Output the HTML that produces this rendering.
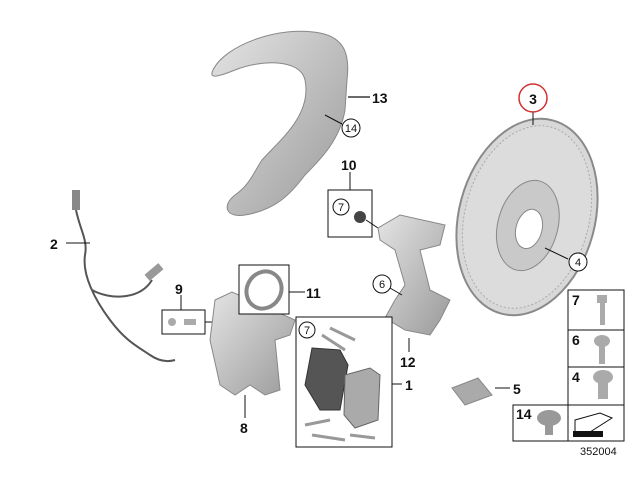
<!DOCTYPE html>
<html><head><meta charset="utf-8"><style>
html,body{margin:0;padding:0;background:#fff}
svg{display:block}
text{font-family:"Liberation Sans",sans-serif;font-weight:bold;font-size:14px;fill:#111}
.s{font-size:11px;font-weight:normal}
</style></head><body>
<svg width="640" height="480" viewBox="0 0 640 480">
<defs>
<linearGradient id="g" x1="0" y1="0" x2="1" y2="1"><stop offset="0" stop-color="#e4e4e4"/><stop offset="1" stop-color="#9a9a9a"/></linearGradient>
</defs>
<!-- shield 13 -->
<path d="M213,70 C225,45 280,25 320,33 C345,38 350,55 347,80 L345,110 C340,140 320,160 305,175 C290,195 275,210 245,215 C225,218 222,205 235,195 C250,185 255,170 262,160 C280,140 312,115 305,80 C300,58 260,60 235,70 C220,76 208,80 213,70 Z" fill="url(#g)" stroke="#888" stroke-width="1"/>
<line x1="348" y1="97" x2="370" y2="97" stroke="#111" stroke-width="1.2"/>
<text x="372" y="103">13</text>
<line x1="325" y1="115" x2="342" y2="124" stroke="#111"/>
<circle cx="351" cy="128" r="9" fill="#fff" stroke="#111"/><text x="351" y="132" class="s" text-anchor="middle">14</text>
<!-- disc 3 -->
<g transform="rotate(15 527 217)">
<ellipse cx="527" cy="217" rx="68" ry="100" fill="#d8d8d8" stroke="#8a8a8a" stroke-width="2"/>
<ellipse cx="527" cy="217" rx="62" ry="93" fill="#dcdcdc" stroke="#aaa" stroke-dasharray="2 2"/>
<ellipse cx="530" cy="225" rx="30" ry="46" fill="#c9c9c9" stroke="#888"/>
<ellipse cx="532" cy="228" rx="13" ry="20" fill="#fff" stroke="#888"/>
</g>
<line x1="533" y1="112" x2="533" y2="125" stroke="#111"/>
<circle cx="533" cy="98" r="14" fill="#fff" stroke="#d03030" stroke-width="1.5"/><text x="533" y="104" text-anchor="middle">3</text>
<line x1="545" y1="248" x2="568" y2="259" stroke="#111"/>
<circle cx="578" cy="262" r="9" fill="#fff" stroke="#111"/><text x="578" y="266" class="s" text-anchor="middle">4</text>
<!-- sensor 2 -->
<path d="M76,210 C80,230 88,240 85,255 C82,275 95,300 110,320 C125,340 135,345 150,355 C160,362 168,362 175,360 M92,290 C110,300 140,300 152,280" fill="none" stroke="#555" stroke-width="2"/>
<rect x="145" y="268" width="18" height="8" fill="#999" transform="rotate(-40 154 272)"/>
<rect x="72" y="190" width="8" height="20" fill="#888"/>
<line x1="66" y1="243" x2="90" y2="243" stroke="#111"/>
<text x="50" y="249">2</text>
<!-- box 9 -->
<line x1="181" y1="295" x2="181" y2="310" stroke="#111"/>
<text x="175" y="294">9</text>
<rect x="162" y="310" width="43" height="24" fill="#fff" stroke="#111"/>
<circle cx="172" cy="322" r="4" fill="#aaa"/><rect x="184" y="319" width="12" height="6" fill="#aaa"/>
<line x1="205" y1="322" x2="215" y2="322" stroke="#111"/>
<!-- caliper 8 -->
<path d="M215,300 L232,292 L295,320 L290,335 L275,340 L280,390 L265,395 L250,385 L235,395 L220,385 L210,340 Z" fill="url(#g)" stroke="#888"/>
<line x1="245" y1="395" x2="245" y2="418" stroke="#111"/>
<text x="240" y="433">8</text>
<!-- box 11 -->
<rect x="239" y="265" width="50" height="49" fill="#fff" stroke="#111"/>
<ellipse cx="264" cy="290" rx="17" ry="19" fill="none" stroke="#888" stroke-width="4" transform="rotate(30 264 290)"/>
<line x1="289" y1="292" x2="305" y2="292" stroke="#111"/>
<text x="306" y="298">11</text>
<!-- box 10 -->
<line x1="350" y1="172" x2="350" y2="190" stroke="#111"/>
<text x="341" y="170">10</text>
<rect x="328" y="190" width="44" height="47" fill="#fff" stroke="#111"/>
<circle cx="341" cy="207" r="8" fill="#fff" stroke="#111"/><text x="341" y="211" class="s" text-anchor="middle">7</text>
<circle cx="360" cy="217" r="6" fill="#444"/>
<line x1="366" y1="220" x2="378" y2="228" stroke="#111"/>
<!-- bracket 12 -->
<path d="M378,228 L400,215 L445,225 L440,245 L420,250 L430,290 L450,300 L440,320 L430,335 L405,330 L385,318 L395,300 L405,285 L395,250 L380,240 Z" fill="url(#g)" stroke="#888"/>
<line x1="409" y1="338" x2="409" y2="352" stroke="#111"/>
<text x="400" y="367">12</text>
<line x1="390" y1="288" x2="402" y2="295" stroke="#111"/>
<circle cx="382" cy="284" r="9" fill="#fff" stroke="#111"/><text x="382" y="288" class="s" text-anchor="middle">6</text>
<!-- box 1 -->
<rect x="296" y="317" width="96" height="130" fill="#fff" stroke="#111"/>
<circle cx="307" cy="330" r="8" fill="#fff" stroke="#111"/><text x="307" y="334" class="s" text-anchor="middle">7</text>
<path d="M322,335 L345,350 M330,328 L355,340" stroke="#999" stroke-width="3"/>
<path d="M312,348 L340,350 L348,365 L340,410 L320,410 L305,385 Z" fill="#555" stroke="#333"/>
<path d="M345,375 L370,368 L380,375 L378,420 L355,428 L344,415 Z" fill="#aaa" stroke="#666"/>
<path d="M305,425 L330,420 M312,435 L345,440 M350,435 L375,438" stroke="#999" stroke-width="3"/>
<line x1="392" y1="384" x2="402" y2="384" stroke="#111"/>
<text x="405" y="390">1</text>
<!-- 5 -->
<path d="M452,388 L478,378 L492,395 L465,405 Z" fill="#aaa" stroke="#888"/>
<line x1="495" y1="388" x2="510" y2="388" stroke="#111"/>
<text x="513" y="394">5</text>
<!-- bolts table -->
<rect x="568" y="290" width="56" height="115" fill="#fff" stroke="#111"/>
<line x1="568" y1="330" x2="624" y2="330" stroke="#111"/>
<line x1="568" y1="367" x2="624" y2="367" stroke="#111"/>
<rect x="513" y="405" width="111" height="36" fill="#fff" stroke="#111"/>
<line x1="568" y1="405" x2="568" y2="441" stroke="#111"/>
<text x="572" y="305">7</text><text x="572" y="345">6</text><text x="572" y="382">4</text><text x="516" y="419">14</text>
<rect x="597" y="295" width="10" height="8" fill="#aaa"/><rect x="600" y="303" width="5" height="22" fill="#aaa"/>
<ellipse cx="602" cy="341" rx="8" ry="6" fill="#aaa"/><rect x="599" y="346" width="6" height="18" fill="#aaa"/>
<ellipse cx="603" cy="377" rx="10" ry="7" fill="#aaa"/><rect x="598" y="383" width="10" height="16" fill="#aaa"/>
<ellipse cx="549" cy="418" rx="12" ry="8" fill="#999"/><rect x="545" y="425" width="8" height="10" fill="#999"/>
<path d="M575,420 L600,413 L612,418 L590,432 L575,433 Z" fill="#fff" stroke="#111"/>
<rect x="573" y="431" width="30" height="6" fill="#111"/>
<text x="580" y="455" class="s">352004</text>
</svg>
</body></html>
